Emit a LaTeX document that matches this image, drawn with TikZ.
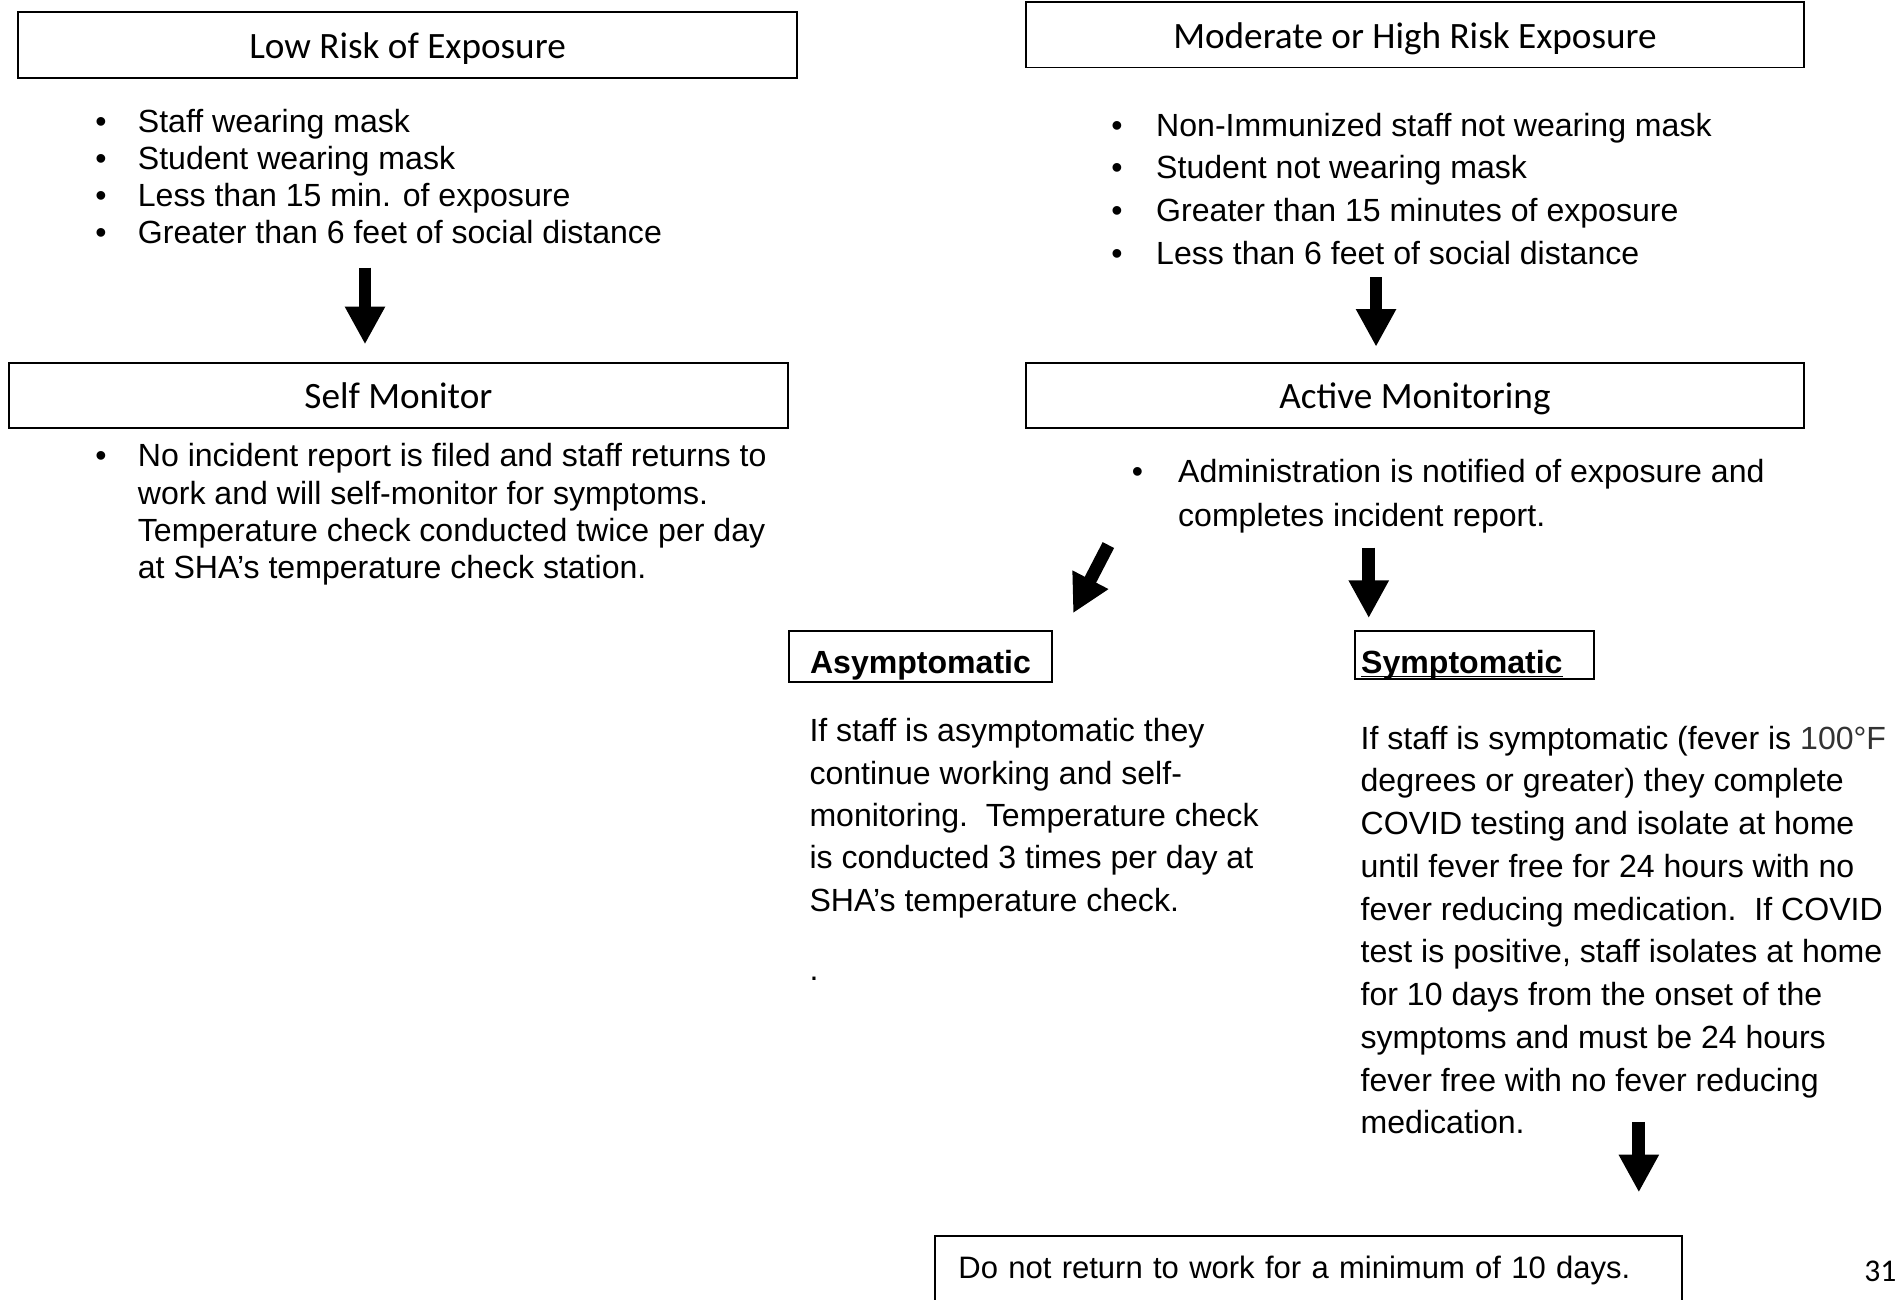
\documentclass[tikz,border=0pt]{standalone}
\usepackage{fontspec}
\setmainfont{Liberation Sans}
\newfontfamily\calfont{Carlito}
\usetikzlibrary{arrows.meta}
\newcommand\bul[1]{\makebox[#1][l]{\textbullet}}
\tikzset{%
    bx/.style={draw, line width=0.9pt, inner sep=0pt},
    hd/.style={bx, minimum width=12.8cm, minimum height=1.08cm, text height=0.5cm, text depth=0.06cm, font=\calfont\fontsize{17.4}{20}\selectfont},
    tx/.style={anchor=base west, inner sep=0pt, align=left, font=\fontsize{15}{17.4}\selectfont},
    tw/.style={tx, font=\fontsize{15}{19.9}\selectfont},
    tb/.style={bx, anchor=north west, inner ysep=0pt, text height=0.7cm, font=\bfseries\fontsize{15}{17.4}\selectfont},
    fat/.style={line width=6pt, -{Triangle[width=0.62cm, length=0.62cm]}},
}

\begin{document}
\begin{tikzpicture}[x=0.02cm, y=-0.02cm]
    \clip (0,0) rectangle (1560,1068);
    \node [hd] (low) at (335,37) {Low Risk of Exposure};
    \node [tx] (lowlist) at (78,200.5) {\bul{0.7cm}Staff wearing mask\\ \bul{0.7cm}Student wearing mask\\ \bul{0.7cm}Less than 15 min. of exposure\\ \bul{0.7cm}Greater than 6 feet of social distance};
    \node [hd] (self) at (327.5,325) {Self Monitor};
    \node [tx] (selftxt) at (78,475.5) {\bul{0.7cm}No incident report is filed and staff returns to\\ \hspace*{0.7cm}work and will self-monitor for symptoms.\\ \hspace*{0.7cm}Temperature check conducted twice per day\\ \hspace*{0.7cm}at SHA’s temperature check station.};

    \node [hd] (high) at (1163,28.5) {Moderate or High Risk Exposure};
    \node [tw] (highlist) at (913,217) {\bul{0.74cm}Non-Immunized staff not wearing mask\\ \bul{0.74cm}Student not wearing mask\\ \bul{0.74cm}Greater than 15 minutes of exposure\\ \bul{0.74cm}Less than 6 feet of social distance};
    \node [hd] (active) at (1163,325) {Active Monitoring};
    \node [tx, font=\fontsize{15}{20.5}\selectfont] (admin) at (930,433) {\bul{0.76cm}Administration is notified of exposure and\\ \hspace*{0.76cm}completes incident report.};

    \node [tb, inner xsep=0.34cm, text depth=0.14cm] (asym) at (648,518) {Asymptomatic};
    \node [tb, inner xsep=0.1cm, text width=3.72cm, text depth=0.08cm] (sym) at (1113,518) {\underline{\smash{Symptomatic}}};
    \node [tx, font=\fontsize{15}{19.8}\selectfont] (asymtxt) at (665,749) {If staff is asymptomatic they\\ continue working and self-\\ monitoring.\ \ Temperature check\\ is conducted 3 times per day at\\ SHA’s temperature check.};
    \node [tx] (dot) at (665,806) {.};
    \node [tx, font=\fontsize{15}{20}\selectfont] (symtxt) at (1118,932) {If staff is symptomatic (fever is {\color{black!80}100°F}\\ degrees or greater) they complete\\ COVID testing and isolate at home\\ until fever free for 24 hours with no\\ fever reducing medication.\ \ If COVID\\ test is positive, staff isolates at home\\ for 10 days from the onset of the\\ symptoms and must be 24 hours\\ fever free with no fever reducing\\ medication.};
    \node [bx, anchor=north west, inner xsep=0.38cm, inner ysep=0pt, text width=11.52cm, text height=0.7cm, text depth=1.6cm, align=left, font=\fontsize{14.5}{17.4}\selectfont] (stay) at (768,1015) {Do not return to work for a minimum of 10 days.};
    \node [anchor=base east, inner sep=0pt, font=\calfont\fontsize{14.8}{17}\selectfont] (pg) at (1559,1053) {31};

    \coordinate (a1) at (300,220);
    \coordinate (a2) at (300,283);
    \coordinate (b1) at (1131,228);
    \coordinate (b2) at (1131,285);
    \coordinate (c1) at (911,448);
    \coordinate (c2) at (882,504);
    \coordinate (d1) at (1125,450);
    \coordinate (d2) at (1125,508);
    \coordinate (e1) at (1347,922);
    \coordinate (e2) at (1347,980);
    \draw [fat] (a1) -- (a2);
    \draw [fat] (b1) -- (b2);
    \draw [fat] (c1) -- (c2);
    \draw [fat] (d1) -- (d2);
    \draw [fat] (e1) -- (e2);
\end{tikzpicture}
\end{document}
